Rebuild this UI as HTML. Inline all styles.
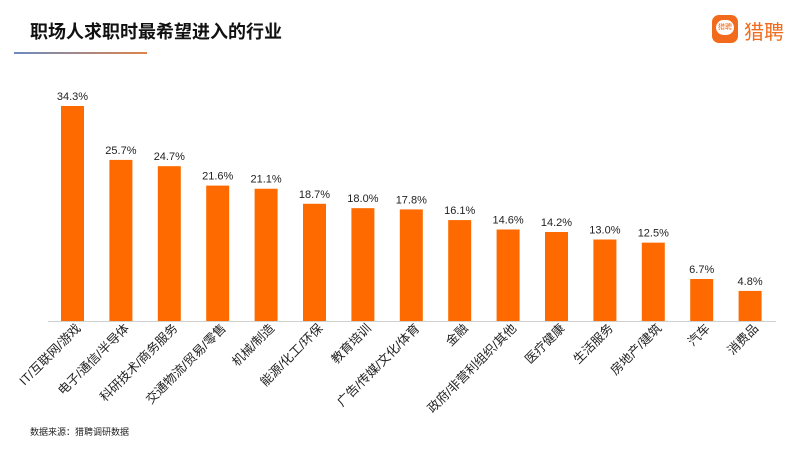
<!DOCTYPE html>
<html><head><meta charset="utf-8"><style>
body{margin:0;width:800px;height:450px;background:#fff;overflow:hidden;font-family:"Liberation Sans","Noto Sans CJK SC",sans-serif;position:relative}
.t{position:absolute;left:30px;top:18px;font-size:18px;font-weight:bold;color:#111}
.ln{position:absolute;left:14px;top:52px;width:133px;height:2px;background:linear-gradient(90deg,#6b8bc0,#e0834a)}
.logo{position:absolute;left:712px;top:15px;width:26px;height:28px;border-radius:7px;background:#f26a1b}
.logo i{position:absolute;left:4px;top:5px;width:18px;height:15px;border-radius:8px;background:#fff;font-style:normal;font-size:7px;color:#f26a1b;text-align:center;line-height:15px}
.lt{position:absolute;left:744px;top:16px;font-size:20px;color:#f26a1b}
.src{position:absolute;left:30px;top:425px;font-size:9px;color:#222}
</style></head><body>
<div class="t">职场人求职时最希望进入的行业</div>
<div class="ln"></div>
<div class="logo"><i>猎聘</i></div>
<div class="lt">猎聘</div>
<svg id="c" width="800" height="450" style="position:absolute;left:0;top:0"></svg>
<div class="src">数据来源：猎聘调研数据</div>
<script>
const categories=["IT/互联网/游戏","电子/通信/半导体","科研技术/商务服务","交通物流/贸易/零售","机械/制造","能源/化工/环保","教育培训","广告/传媒/文化/体育","金融","政府/非营利组织/其他","医疗健康","生活服务","房地产/建筑","汽车","消费品"];
const values=[34.3,25.7,24.7,21.6,21.1,18.7,18.0,17.8,16.1,14.6,14.2,13.0,12.5,6.7,4.8];
const labels=["34.3%","25.7%","24.7%","21.6%","21.1%","18.7%","18.0%","17.8%","16.1%","14.6%","14.2%","13.0%","12.5%","6.7%","4.8%"];
const svg=document.getElementById('c'),NS='http://www.w3.org/2000/svg';
const base=321,scale=215/34.3,x0=72.5,step=48.4,bw=23;
const x=i=>x0+i*step, y=v=>base-v*scale;
function mk(t,a){const e=document.createElementNS(NS,t);for(const k in a)e.setAttribute(k,a[k]);svg.appendChild(e);return e;}
const ax=mk('line',{x1:48,x2:776,y1:base+0.5,y2:base+0.5,stroke:'#d0d0d0','stroke-width':1});


values.forEach((v,i)=>{
 const r=mk('rect',{x:x(i)-bw/2,y:y(v),width:bw,height:base-y(v),fill:'#ff6a00'});
 
 
 const t=mk('text',{x:x(i),y:y(v)-6,'text-anchor':'middle','font-size':11,fill:'#222'});
 t.textContent=labels[i];
 
 
 const c=mk('text',{x:0,y:0,'text-anchor':'end','font-size':12.5,fill:'#222',transform:`translate(${x(i)+9},${base+8}) rotate(-45)`});
 c.textContent=categories[i];
 
 
});
</script>
</body></html>
